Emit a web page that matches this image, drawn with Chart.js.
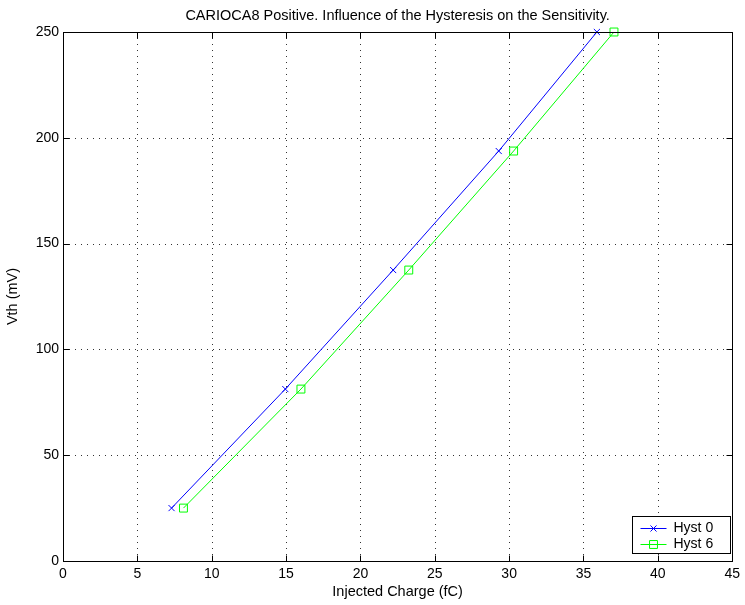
<!DOCTYPE html>
<html>
<head>
<meta charset="utf-8">
<script src="https://cdn.jsdelivr.net/npm/chart.js@4.4.1/dist/chart.umd.min.js"></script>
<style>
  html, body { margin: 0; padding: 0; background: #fff; }
</style>
</head>
<body>
<canvas id="chart" width="745" height="605"></canvas>
<script>
// values
const seriesNames = ["Hyst 0", "Hyst 6"];
const vthLevels = [25, 81.25, 137.5, 193.75, 250];
const hyst0Charge = [7.3, 14.95, 22.2, 29.3, 35.9];
const hyst6Charge = [8.1, 16.0, 23.25, 30.3, 37.05];
const xTicks = [0, 5, 10, 15, 20, 25, 30, 35, 40, 45];
const yTicks = [0, 50, 100, 150, 200, 250];

Chart.defaults.font.family = "'Liberation Sans', Arial, Helvetica, sans-serif";
Chart.defaults.color = "#000";

function toPoints(xs, ys) {
  return xs.map((x, i) => ({ x: x, y: ys[i] }));
}

// dotted grid, box, inside ticks and the boxed legend (matlab look)
const matlabAxes = {
  id: "matlabAxes",
  beforeDatasetsDraw(chart) {
    const { ctx, chartArea: a, scales } = chart;
    ctx.save();
    ctx.strokeStyle = "#333";
    ctx.lineWidth = 1;
    ctx.setLineDash([1, 5]);
    xTicks.forEach((v) => {
      if (v === xTicks[0] || v === xTicks[xTicks.length - 1]) return;
      const px = Math.round(scales.x.getPixelForValue(v)) + 0.5;
      ctx.beginPath();
      ctx.moveTo(px, a.bottom);
      ctx.lineTo(px, a.top);
      ctx.stroke();
    });
    yTicks.forEach((v) => {
      if (v === yTicks[0] || v === yTicks[yTicks.length - 1]) return;
      const py = Math.round(scales.y.getPixelForValue(v)) + 0.5;
      ctx.beginPath();
      ctx.moveTo(a.left, py);
      ctx.lineTo(a.right, py);
      ctx.stroke();
    });
    ctx.restore();
  },
  afterDatasetsDraw(chart) {
    const { ctx, chartArea: a, scales } = chart;
    const L = Math.round(a.left) + 0.5, R = Math.round(a.right) + 0.5;
    const T = Math.round(a.top) + 0.5, B = Math.round(a.bottom) + 0.5;
    const tl = 6;
    ctx.save();
    ctx.strokeStyle = "#000";
    ctx.lineWidth = 1;
    ctx.setLineDash([]);
    ctx.strokeRect(L, T, R - L, B - T);
    ctx.beginPath();
    xTicks.forEach((v) => {
      const px = Math.round(scales.x.getPixelForValue(v)) + 0.5;
      ctx.moveTo(px, B); ctx.lineTo(px, B - tl);
      ctx.moveTo(px, T); ctx.lineTo(px, T + tl);
    });
    yTicks.forEach((v) => {
      const py = Math.round(scales.y.getPixelForValue(v)) + 0.5;
      ctx.moveTo(L, py); ctx.lineTo(L + tl, py);
      ctx.moveTo(R, py); ctx.lineTo(R - tl, py);
    });
    ctx.stroke();

    // legend, lower right inside the axes
    const w = 98, h = 37;
    const bx = R - 2 - w, by = B - 8 - h;
    ctx.fillStyle = "#fff";
    ctx.fillRect(bx, by, w, h);
    ctx.strokeRect(bx, by, w, h);
    ctx.font = "14px 'Liberation Sans', Arial, sans-serif";
    ctx.textBaseline = "middle";
    ctx.textAlign = "left";
    chart.data.datasets.forEach((ds, i) => {
      const y = Math.round(by + 11 + i * 16) + 0.5;
      ctx.strokeStyle = ds.borderColor;
      ctx.beginPath();
      ctx.moveTo(bx + 8, y);
      ctx.lineTo(bx + 34, y);
      ctx.stroke();
      ctx.fillStyle = "rgba(0,0,0,0)";
      Chart.helpers.drawPoint(ctx, {
        pointStyle: ds.pointStyle,
        radius: ds.pointRadius,
        borderWidth: 1,
        rotation: 0
      }, bx + 21, y);
      ctx.fillStyle = "#000";
      ctx.fillText(ds.label, bx + 41, y);
    });
    ctx.restore();
  }
};

new Chart(document.getElementById("chart"), {
  type: "line",
  data: {
    datasets: [
      {
        label: seriesNames[0],
        data: toPoints(hyst0Charge, vthLevels),
        borderColor: "#0000ff",
        backgroundColor: "rgba(0,0,0,0)",
        borderWidth: 1,
        pointStyle: "crossRot",
        pointRadius: 4.3,
        pointHoverRadius: 4.3,
        pointBorderWidth: 1,
        tension: 0,
        clip: false,
      },
      {
        label: seriesNames[1],
        data: toPoints(hyst6Charge, vthLevels),
        borderColor: "#00ff00",
        backgroundColor: "rgba(0,0,0,0)",
        borderWidth: 1,
        pointStyle: "rect",
        pointRadius: 5.6,
        pointHoverRadius: 5.6,
        pointBorderWidth: 1,
        tension: 0,
        clip: false,
      },
    ],
  },
  options: {
    responsive: false,
    animation: false,
    devicePixelRatio: 1,
    layout: { padding: { left: 0, right: 12, top: 0, bottom: 0 } },
    plugins: {
      legend: { display: false },
      tooltip: { enabled: false },
      title: {
        display: true,
        fullSize: false,
        text: "CARIOCA8 Positive. Influence of the Hysteresis on the Sensitivity.",
        color: "#000",
        font: { size: 14.5, weight: "normal" },
        padding: { top: 7, bottom: 7.6 },
      },
    },
    scales: {
      x: {
        type: "linear",
        min: 0,
        max: 45,
        afterBuildTicks: (s) => { s.ticks = xTicks.map((v) => ({ value: v })); },
        afterFit: (s) => { s.height = 44; },
        grid: { display: false, drawTicks: false },
        border: { display: false },
        ticks: { font: { size: 14 }, color: "#000", padding: 5, maxRotation: 0 },
        title: {
          display: true,
          text: "Injected Charge (fC)",
          font: { size: 14.5 },
          color: "#000",
          padding: { top: 0, bottom: 4.3 },
        },
      },
      y: {
        type: "linear",
        min: 0,
        max: 250,
        afterBuildTicks: (s) => { s.ticks = yTicks.map((v) => ({ value: v })); },
        afterFit: (s) => { s.width = 63; },
        grid: { display: false, drawTicks: false },
        border: { display: false },
        ticks: { font: { size: 14 }, color: "#000", padding: 4 },
        title: {
          display: true,
          text: "Vth (mV)",
          font: { size: 14.5 },
          color: "#000",
          padding: { top: 4.3, bottom: 0 },
        },
      },
    },
  },
  plugins: [matlabAxes],
});
</script>
</body>
</html>
